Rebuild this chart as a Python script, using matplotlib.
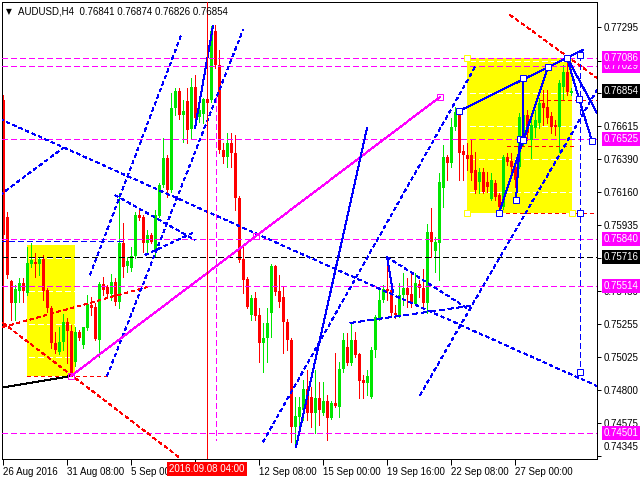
import numpy as np
import matplotlib
matplotlib.use("Agg")
import matplotlib.pyplot as plt
from matplotlib.patches import Rectangle
from matplotlib.transforms import ScaledTranslation

plt.rcParams['font.family'] = ['Liberation Sans', 'DejaVu Sans']
plt.rcParams['lines.scale_dashes'] = False
plt.rcParams['lines.antialiased'] = False
plt.rcParams['patch.antialiased'] = False

SYMBOL = "AUDUSD,H4"

# H4 bars, 26 Aug 2016 16:00 .. 29 Sep 2016
opens = [0.76795, 0.75990, 0.75550, 0.75398, 0.75481, 0.75536, 0.75467, 0.75667, 0.75680, 0.75667,
         0.75701, 0.75488, 0.75364, 0.75123, 0.75061, 0.75130, 0.75268, 0.75206, 0.74993, 0.75199,
         0.75109, 0.75226, 0.75385, 0.75371, 0.75144, 0.75529, 0.75508, 0.75460, 0.75543, 0.75405,
         0.75811, 0.75653, 0.75639, 0.75722, 0.76004, 0.75990, 0.75811, 0.75866, 0.75749, 0.75997,
         0.76210, 0.76396, 0.76176, 0.76740, 0.76857, 0.76692, 0.76788, 0.76596, 0.76884, 0.76678,
         0.76699, 0.76802, 0.76795, 0.77270, 0.77036, 0.76451, 0.76403, 0.76499, 0.76430, 0.76121,
         0.75701, 0.75564, 0.75316, 0.75433, 0.75316, 0.75123, 0.75158, 0.75330, 0.75653, 0.75481,
         0.75440, 0.75268, 0.75144, 0.74545, 0.74614, 0.74662, 0.74807, 0.74752, 0.74642, 0.74745,
         0.74642, 0.74724, 0.74607, 0.74710, 0.74683, 0.74945, 0.75096, 0.74986, 0.75144, 0.75048,
         0.74869, 0.74848, 0.74752, 0.75075, 0.75295, 0.75419, 0.75495, 0.75488, 0.75330, 0.75316,
         0.75453, 0.75502, 0.75460, 0.75391, 0.75529, 0.75502, 0.75398, 0.75887, 0.75756, 0.75811,
         0.76190, 0.76403, 0.76362, 0.76609, 0.76712, 0.76444, 0.76417, 0.76417, 0.76313, 0.76231,
         0.76300, 0.76231, 0.76114, 0.76224, 0.76141, 0.76059, 0.76403, 0.76375, 0.76334, 0.76334,
         0.76520, 0.76692, 0.76520, 0.76602, 0.76637, 0.76774, 0.76747, 0.76685, 0.76623, 0.76609,
         0.76884, 0.76988, 0.76841]
highs = [0.76829, 0.76024, 0.75557, 0.75522, 0.75570, 0.75570, 0.75784, 0.75811, 0.75742, 0.75715,
         0.75729, 0.75502, 0.75378, 0.75199, 0.75233, 0.75323, 0.75295, 0.75247, 0.75233, 0.75213,
         0.75233, 0.75453, 0.75440, 0.75398, 0.75543, 0.75577, 0.75522, 0.75598, 0.75570, 0.76155,
         0.75949, 0.75715, 0.75784, 0.76024, 0.76052, 0.76004, 0.75901, 0.75880, 0.76038, 0.76224,
         0.76534, 0.76417, 0.76843, 0.76878, 0.76878, 0.76795, 0.76878, 0.76946, 0.76967, 0.76774,
         0.76809, 0.76829, 0.77304, 0.77311, 0.77139, 0.76499, 0.76568, 0.76568, 0.76554, 0.76135,
         0.75784, 0.75577, 0.75453, 0.75474, 0.75364, 0.75261, 0.75364, 0.75667, 0.75660, 0.75591,
         0.75508, 0.75288, 0.75158, 0.74752, 0.74752, 0.74869, 0.74938, 0.74820, 0.74938, 0.74855,
         0.74855, 0.74765, 0.74724, 0.75054, 0.74993, 0.75192, 0.75192, 0.75261, 0.75199, 0.75054,
         0.74903, 0.74938, 0.75096, 0.75316, 0.75488, 0.75522, 0.75722, 0.75508, 0.75385, 0.75536,
         0.75605, 0.75570, 0.75612, 0.75605, 0.75557, 0.75632, 0.75942, 0.76052, 0.75852, 0.76293,
         0.76485, 0.76417, 0.76671, 0.76747, 0.76740, 0.76485, 0.76499, 0.76520, 0.76437, 0.76327,
         0.76327, 0.76300, 0.76293, 0.76245, 0.76155, 0.76417, 0.76430, 0.76430, 0.76362, 0.76705,
         0.76726, 0.76726, 0.76692, 0.76726, 0.76809, 0.76864, 0.76864, 0.76712, 0.76657, 0.76933,
         0.77036, 0.77086, 0.76874]
lows = [0.75233, 0.75570, 0.75281, 0.75281, 0.75405, 0.75405, 0.75453, 0.75646, 0.75577, 0.75591,
        0.75419, 0.75336, 0.75089, 0.75054, 0.75048, 0.75075, 0.74986, 0.74896, 0.74965, 0.75144,
        0.75089, 0.75213, 0.75316, 0.75144, 0.75027, 0.75453, 0.75433, 0.75419, 0.75385, 0.75364,
        0.75577, 0.75612, 0.75619, 0.75708, 0.75969, 0.75749, 0.75742, 0.75811, 0.75715, 0.75990,
        0.76196, 0.76128, 0.76162, 0.76692, 0.76664, 0.76506, 0.76499, 0.76534, 0.76644, 0.76644,
        0.76637, 0.76761, 0.76781, 0.77015, 0.76430, 0.76362, 0.76334, 0.76334, 0.76038, 0.75680,
        0.75467, 0.75364, 0.75281, 0.75281, 0.74993, 0.74924, 0.74993, 0.75164, 0.75453, 0.75371,
        0.75054, 0.75075, 0.74442, 0.74408, 0.74545, 0.74593, 0.74593, 0.74545, 0.74504, 0.74559,
        0.74628, 0.74456, 0.74600, 0.74683, 0.74614, 0.74924, 0.74972, 0.74972, 0.75027, 0.74745,
        0.74745, 0.74765, 0.74745, 0.75027, 0.75281, 0.75405, 0.75419, 0.75302, 0.75295, 0.75302,
        0.75385, 0.75371, 0.75371, 0.75385, 0.75440, 0.75371, 0.75330, 0.75715, 0.75612, 0.75557,
        0.76059, 0.76245, 0.76334, 0.76589, 0.76245, 0.76245, 0.76313, 0.76245, 0.76155, 0.76155,
        0.76155, 0.76162, 0.76107, 0.76107, 0.76018, 0.76045, 0.76348, 0.76300, 0.76196, 0.76327,
        0.76485, 0.76520, 0.76396, 0.76540, 0.76602, 0.76623, 0.76637, 0.76568, 0.76554, 0.76437,
        0.76795, 0.76829, 0.76826]
closes = [0.75866, 0.75591, 0.75398, 0.75495, 0.75536, 0.75481, 0.75674, 0.75694, 0.75667, 0.75701,
          0.75481, 0.75364, 0.75123, 0.75075, 0.75130, 0.75268, 0.75206, 0.74917, 0.75199, 0.75158,
          0.75233, 0.75391, 0.75364, 0.75151, 0.75529, 0.75488, 0.75460, 0.75543, 0.75405, 0.75811,
          0.75646, 0.75687, 0.75722, 0.76004, 0.75983, 0.75811, 0.75866, 0.75818, 0.76004, 0.76210,
          0.76396, 0.76176, 0.76740, 0.76857, 0.76692, 0.76719, 0.76589, 0.76884, 0.76671, 0.76726,
          0.76802, 0.76774, 0.77270, 0.77036, 0.76451, 0.76403, 0.76499, 0.76430, 0.76121, 0.75694,
          0.75557, 0.75371, 0.75433, 0.75309, 0.75123, 0.75158, 0.75261, 0.75653, 0.75474, 0.75405,
          0.75268, 0.75144, 0.74545, 0.74621, 0.74683, 0.74807, 0.74642, 0.74642, 0.74745, 0.74662,
          0.74724, 0.74607, 0.74710, 0.74690, 0.74945, 0.75144, 0.74986, 0.75144, 0.75041, 0.74862,
          0.74848, 0.74896, 0.75075, 0.75302, 0.75419, 0.75495, 0.75481, 0.75330, 0.75316, 0.75453,
          0.75502, 0.75453, 0.75391, 0.75536, 0.75502, 0.75398, 0.75887, 0.75818, 0.75818, 0.76231,
          0.76403, 0.76362, 0.76609, 0.76712, 0.76430, 0.76417, 0.76389, 0.76293, 0.76176, 0.76300,
          0.76162, 0.76196, 0.76245, 0.76128, 0.76059, 0.76403, 0.76368, 0.76334, 0.76245, 0.76678,
          0.76692, 0.76568, 0.76623, 0.76658, 0.76774, 0.76740, 0.76671, 0.76609, 0.76609, 0.76912,
          0.76988, 0.76850, 0.76854]

# time axis
xtick_bars = [0, 16, 32, 48, 64, 80, 96, 112, 128]
xtick_labels = ['26 Aug 2016', '31 Aug 08:00', '5 Sep 00:00', '', '12 Sep 08:00',
                '15 Sep 00:00', '19 Sep 16:00', '22 Sep 08:00', '27 Sep 00:00']
cross_bar = 51
cross_label = '2016.09.08 04:00'

# price axis
ytick_prices = [0.77295, 0.77065, 0.76840, 0.76615, 0.76390, 0.76160, 0.75935,
                0.75710, 0.75480, 0.75255, 0.75025, 0.74800, 0.74575, 0.74345]
magenta_levels = [0.77029, 0.77086, 0.76525, 0.75840, 0.75514, 0.74501]
black_levels = [0.75716]

# drawn objects: (bar, price) points
rect_left = [(6, 0.74896), (18, 0.75797)]
rect_right = [(116, 0.76018), (142.25, 0.77086)]
magenta_trend = [(17, 0.74896), (63.25, 0.75859), (109.25, 0.76816)]
magenta_vline = [(53.25, 0.76816), (53.25, 0.74456)]
black_trend = [(-0.75, 0.74814), (17, 0.74896)]
red_dashed = [
    [(6, 0.74896), (26, 0.74896)],
    [(0, 0.75233), (36, 0.75508)],
    [(0, 0.75261), (44.25, 0.74332)],
    [(126.75, 0.77380), (148.5, 0.76946)],
    [(134.25, 0.76795), (148.5, 0.76795)],
    [(126, 0.76479), (143.5, 0.76479)],
    [(124, 0.76018), (148.5, 0.76018)],
]
blue_dotted = [
    [(-0.75, 0.76664), (148.5, 0.74827)],
    [(-0.75, 0.76141), (15, 0.76465)],
    [(21.75, 0.75591), (44.75, 0.77256)],
    [(26, 0.74896), (60, 0.77277)],
    [(28, 0.76141), (48, 0.75832)],
    [(35.5, 0.75729), (48, 0.75887)],
    [(65, 0.74442), (118, 0.77022)],
    [(104.25, 0.74765), (148.5, 0.76864)],
    [(96, 0.75715), (116.75, 0.75350)],
]
blue_dashed = [
    [(86.75, 0.75261), (116.75, 0.75378)],
    [(-0.75, 0.75825), (30.5, 0.75825)],
    [(144.25, 0.77105), (144.25, 0.74924)],
]
blue_solid = [
    [(48, 0.76602), (52.5, 0.77304)],
    [(73.25, 0.74408), (91, 0.76602)],
    [(96, 0.75715), (97.5, 0.75474)],
    [(114, 0.76719), (145, 0.77139)],
    [(124, 0.76018), (136.25, 0.77022)],
    [(128.25, 0.76107), (129.25, 0.76527), (130, 0.76520), (130, 0.76946)],
    [(141, 0.77086), (144, 0.76802), (147.25, 0.76513)],
    [(141, 0.77086), (148.5, 0.76706)],
]
blue_points = [(114, 0.76719), (124, 0.76018), (128.25, 0.76107), (129.25, 0.76527),
               (130, 0.76520), (130, 0.76946), (136.25, 0.77022), (141, 0.77086),
               (144, 0.76802), (147.25, 0.76513), (144.25, 0.77105), (144.25, 0.76018),
               (144.25, 0.74924)]

GREEN = '#00e600'
RED = '#ff0000'
BLUE = '#0000ff'
MAGENTA = '#ff00ff'
YELLOW = '#ffff00'
DOT = (0, (2.2, 2.2))
DASH = (0, (4.3, 2.2))
LW = 0.72

fig = plt.figure(figsize=(6.4, 4.8), dpi=100)
ax = fig.add_axes([2/640, 21/480, 595/640, 457/480])
ax.set_xlim(-0.25, 148.5)
ax.set_ylim(0.74325, 0.77469)
for s in ax.spines.values():
    s.set_linewidth(LW)

# rectangles and grid (grid is white, only shows on the yellow)
for (x0, y0), (x1, y1) in [rect_left, rect_right]:
    ax.add_patch(Rectangle((x0, y0), x1 - x0, y1 - y0, fc=YELLOW, ec='none', zorder=0.5))
for p in ytick_prices:
    ax.axhline(p, color='white', lw=LW, ls=DASH, zorder=1)

# candles
o = np.array(opens); h = np.array(highs); l = np.array(lows); c = np.array(closes)
x = np.arange(len(o))
col = np.where(c >= o, GREEN, RED)
ax.vlines(x, l, h, colors=col, lw=LW, zorder=2)
body = np.maximum(np.abs(c - o), 0.00007)
ax.bar(x, body, bottom=np.minimum(o, c), width=0.75, color=col, lw=0, zorder=2.1)

# horizontal levels
for p in magenta_levels:
    ax.axhline(p, color=MAGENTA, lw=LW, ls=DASH, zorder=3)
for p in black_levels:
    ax.axhline(p, color='black', lw=LW, ls=DASH, zorder=3)


def draw(pts, **kw):
    xs, ys = zip(*pts)
    ax.plot(xs, ys, **kw)


for seg in red_dashed:
    draw(seg, color=RED, lw=LW, ls=DOT, zorder=3)
for seg in blue_dotted:
    draw(seg, color=BLUE, lw=LW, ls=DOT, zorder=3)
for seg in blue_dashed:
    draw(seg, color=BLUE, lw=LW, ls=DASH, zorder=3)
for seg in blue_solid:
    draw(seg, color=BLUE, lw=LW, zorder=3.2)
draw(black_trend, color='black', lw=LW, zorder=3)
draw([magenta_trend[0], magenta_trend[-1]], color=MAGENTA, lw=LW, zorder=3)
draw(magenta_vline, color=MAGENTA, lw=LW, ls=DASH, zorder=3)

# anchor squares
draw(blue_points, ls='none', marker='s', ms=4.2, mfc='white', mec=BLUE, mew=LW, zorder=4)
draw(magenta_trend, ls='none', marker='s', ms=4.2, mfc='none', mec=MAGENTA, mew=LW, zorder=4)
(rx0, ry0), (rx1, ry1) = rect_right
draw([(rx0, ry0), (rx0, ry1), (rx1, ry0)], ls='none', marker='s', ms=4.2,
     mfc='white', mec=YELLOW, mew=LW, zorder=4)

# crosshair
ax.axvline(cross_bar, color=RED, lw=LW, zorder=5)

# axes ticks
ax.yaxis.tick_right()
ax.set_yticks(ytick_prices)
ax.set_yticklabels([f'{p:.5f}' for p in ytick_prices[:-1]] + [''], fontsize=7)
ax.tick_params(axis='y', length=3, width=LW, pad=1.5)
ax.set_xticks(xtick_bars)
ax.set_xticklabels(xtick_labels, fontsize=7, ha='left')
ax.tick_params(axis='x', length=4, width=LW, pad=2)

ytr = ax.get_yaxis_transform()
# lowest price label sits a little above its level, as on the terminal
ax.text(1.011, ytick_prices[-1], f'{ytick_prices[-1]:.5f}', fontsize=7, va='center', ha='left',
        transform=ytr + ScaledTranslation(0, 0.09, fig.dpi_scale_trans))
for p in magenta_levels:
    ax.text(1.011, p, f'{p:.5f}', transform=ytr, fontsize=7, color='white', va='center',
            ha='left', bbox=dict(boxstyle='square,pad=0.2', fc=MAGENTA, ec='none'), zorder=6)
for p in black_levels + [closes[-1]]:
    ax.text(1.011, p, f'{p:.5f}', transform=ytr, fontsize=7, color='white', va='center',
            ha='left', bbox=dict(boxstyle='square,pad=0.2', fc='black', ec='none'), zorder=6)

ax.text(cross_bar, -0.022, cross_label, transform=ax.get_xaxis_transform(), fontsize=7,
        color='white', ha='center', va='center',
        bbox=dict(boxstyle='square,pad=0.2', fc=RED, ec='none'), zorder=6)

# header
ax.text(0.007, 0.980, '\u25bc', transform=ax.transAxes, fontsize=5.5, va='center', ha='left',
        family=['DejaVu Sans'], zorder=6)
ax.text(0.027, 0.980, f'{SYMBOL}  {opens[-1]:.5f} {highs[-1]:.5f} {lows[-1]:.5f} {closes[-1]:.5f}',
        transform=ax.transAxes, fontsize=7, va='center', ha='left', zorder=6)

fig.savefig('out.png', dpi=100)
